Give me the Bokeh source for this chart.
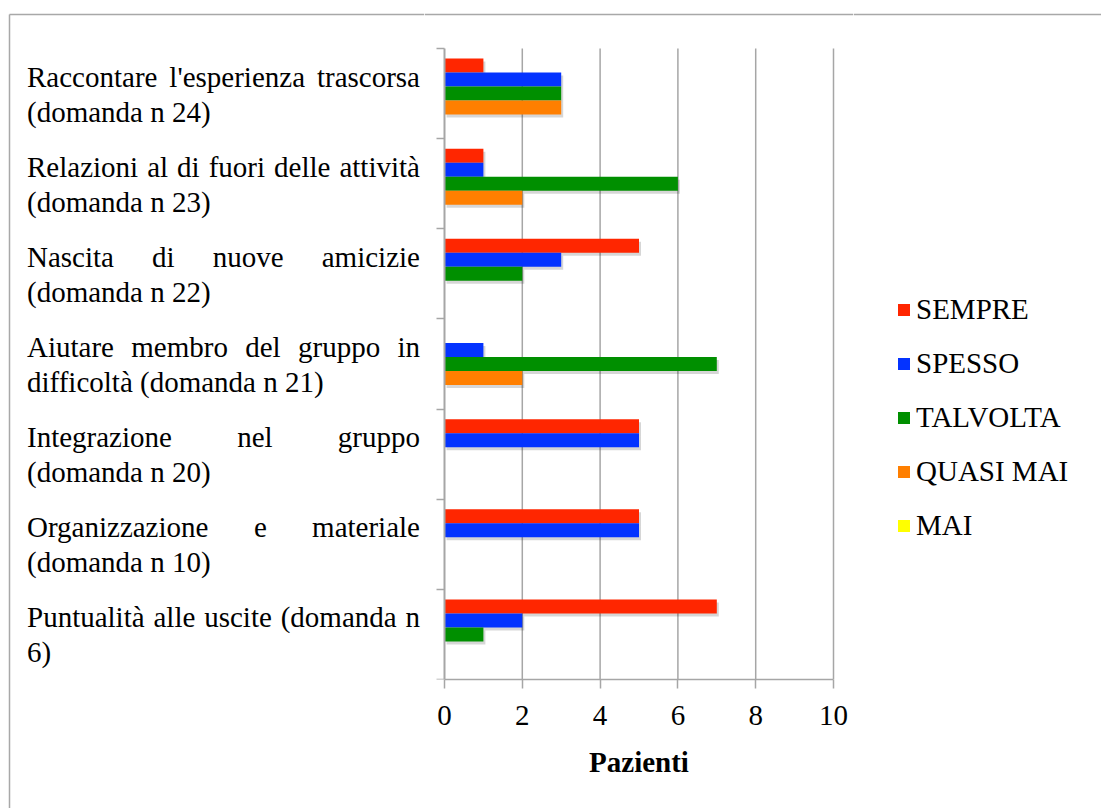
from bokeh.plotting import figure
from bokeh.layouts import row
from bokeh.models import (Legend, LegendItem, FixedTicker, Range1d, ColumnDataSource,
                          Span, LinearAxis)
from bokeh.core.properties import value
from bokeh.embed import file_html
from bokeh.resources import INLINE

# ---- data (rows listed top to bottom) ----
label_first_lines = [
    "Raccontare l'esperienza trascorsa",
    "Relazioni al di fuori delle attività",
    "Nascita di nuove amicizie",
    "Aiutare membro del gruppo in",
    "Integrazione nel gruppo",
    "Organizzazione e materiale",
    "Puntualità alle uscite (domanda n",
]
label_second_lines = [
    "(domanda n 24)",
    "(domanda n 23)",
    "(domanda n 22)",
    "difficoltà (domanda n 21)",
    "(domanda n 20)",
    "(domanda n 10)",
    "6)",
]
series_names = ["SEMPRE", "SPESSO", "TALVOLTA", "QUASI MAI", "MAI"]
series_colors = ["#ff2600", "#0433ff", "#008f00", "#ff7f00", "#ffff00"]
sempre = [1, 1, 5, 0, 5, 5, 7]
spesso = [3, 1, 3, 1, 5, 5, 2]
talvolta = [3, 6, 2, 7, 0, 0, 1]
quasi_mai = [3, 2, 0, 2, 0, 0, 0]
mai = [0, 0, 0, 0, 0, 0, 0]
series_values = [sempre, spesso, talvolta, quasi_mai, mai]
x_ticks = [0, 2, 4, 6, 8, 10]
x_max = 10
x_title = "Pazienti"

# ---- layout constants (pixels) ----
W, H = 1101, 808
AX_L, AX_R, AX_T, AX_B = 444, 833, 48, 679   # plotting area of the bars
PAD = 20                                     # extra room either side of the scale
MID_L, MID_R = AX_L - PAD, AX_R + PAD        # chart panel edges
BORDER_X, BORDER_Y = 9, 14
FONT = "Liberation Serif"
FONT_PX = 29
GRID = "#a6a6a6"
BORDER = "#a8a8a8"

n_rows = len(label_first_lines)
band_px = (AX_B - AX_T) / n_rows
unit_px = (AX_R - AX_L) / x_max
bar_h = 14.0 / band_px
y_top = n_rows + AX_T / band_px               # data value at the canvas top
y_bottom = -(H - AX_B) / band_px              # data value at the canvas bottom
border_y = n_rows + (AX_T - BORDER_Y) / band_px

# ---------------- main chart ----------------
p = figure(frame_width=MID_R - MID_L, frame_height=AX_B, output_backend="svg",
           toolbar_location=None, y_axis_type=None,
           min_border_left=0, min_border_right=0,
           min_border_top=0, min_border_bottom=H - AX_B,
           x_range=Range1d(-PAD / unit_px, x_max + PAD / unit_px),
           y_range=Range1d(0, y_top))
p.outline_line_color = None
p.xgrid.grid_line_color = None
p.ygrid.grid_line_color = None

centres = [n_rows - r - 0.5 for r in range(n_rows)]

# vertical grid lines, limited to the bar area
p.segment(x0=x_ticks[1:], y0=0, x1=x_ticks[1:], y1=n_rows,
          line_color=GRID, line_width=1.5)

# soft drop shadows under the bars
sh_dx = 2.0 / unit_px
sh_dy = 3.0 / band_px
for j, vals in enumerate(series_values):
    ys = [c + (2 - j) * bar_h - sh_dy for c in centres]
    src = ColumnDataSource(dict(y=[y for y, v in zip(ys, vals) if v > 0],
                                l=[sh_dx for v in vals if v > 0],
                                r=[v + sh_dx for v in vals if v > 0]))
    p.hbar(y="y", left="l", right="r", height=bar_h, source=src,
           fill_color="black", fill_alpha=0.16, line_color=None)

for j, (name, vals) in enumerate(zip(series_names, series_values)):
    src = ColumnDataSource(dict(y=[c + (2 - j) * bar_h for c in centres], v=vals))
    p.hbar(y="y", left=0, right="v", height=bar_h, source=src,
           fill_color=series_colors[j], line_color=None)

# x axis
p.xaxis.ticker = FixedTicker(ticks=x_ticks)
p.xaxis.bounds = (0, x_max)
p.xaxis.axis_label = x_title
p.xaxis.axis_label_text_font = FONT
p.xaxis.axis_label_text_font_size = f"{FONT_PX}px"
p.xaxis.axis_label_text_font_style = "bold"
p.xaxis.axis_label_text_color = "black"
p.xaxis.axis_label_standoff = 18
p.xaxis.major_label_text_font = FONT
p.xaxis.major_label_text_font_size = f"{FONT_PX}px"
p.xaxis.major_label_standoff = 17
p.xaxis.major_label_text_color = "black"
p.xaxis.major_tick_out = 9
p.xaxis.major_tick_in = 0
p.xaxis.minor_tick_line_color = None
p.xaxis.axis_line_color = GRID
p.xaxis.axis_line_width = 1.5
p.xaxis.major_tick_line_color = GRID
p.xaxis.major_tick_line_width = 1.5

# category axis: pinned at x = 0, ticks pointing away from the bars
yaxis = LinearAxis(ticker=FixedTicker(ticks=list(range(n_rows + 1))),
                   bounds=(0, n_rows), fixed_location=0,
                   major_label_overrides={i: "" for i in range(n_rows + 1)},
                   major_label_standoff=0, major_tick_out=0, major_tick_in=8,
                   minor_tick_line_color=None,
                   axis_line_color=GRID, axis_line_width=2,
                   major_tick_line_color=GRID, major_tick_line_width=1.5)
p.add_layout(yaxis, "right")

# top edge of the surrounding frame
p.add_layout(Span(location=border_y, dimension="width",
                  line_color=BORDER, line_width=1.5))


def side_panel(width):
    f = figure(frame_width=width, frame_height=H, output_backend="svg",
               toolbar_location=None, min_border=0,
               x_axis_type=None, y_axis_type=None,
               x_range=Range1d(0, width), y_range=Range1d(y_bottom, y_top))
    f.outline_line_color = None
    f.xgrid.grid_line_color = None
    f.ygrid.grid_line_color = None
    return f


# ---------------- category label panel ----------------
q = side_panel(MID_L)

# left and top edge of the surrounding frame
q.segment(x0=[BORDER_X, BORDER_X], y0=[y_bottom, border_y],
          x1=[BORDER_X, MID_L], y1=[border_y, border_y],
          line_color=BORDER, line_width=1.5)

TIMES_W = {" ": 250, "(": 333, ")": 333, "'": 180, "A": 722, "I": 333, "N": 722,
           "O": 722, "P": 556, "R": 667, "a": 444, "b": 500, "c": 444, "d": 500,
           "e": 444, "f": 333, "g": 500, "i": 278, "l": 278, "m": 778, "n": 500,
           "o": 500, "p": 500, "r": 333, "s": 389, "t": 278, "u": 500, "v": 500,
           "z": 444, "à": 444}


def text_px(s):
    return sum(TIMES_W.get(ch, 500) for ch in s) * FONT_PX / 1000.0


LBL_L, LBL_R = 26.5, 419.5
LINE1_UP, LINE2_DOWN = 17, 18                 # baselines relative to the row centre
wx, wy, wt = [], [], []
for r in range(n_rows):
    words = label_first_lines[r].split(" ")
    widths = [text_px(w) for w in words]
    gap = (LBL_R - LBL_L - sum(widths)) / (len(words) - 1)
    x = LBL_L
    for w, wd in zip(words, widths):
        wx.append(x)
        wy.append(centres[r] + LINE1_UP / band_px)
        wt.append(w)
        x += wd + gap
    wx.append(LBL_L)
    wy.append(centres[r] - LINE2_DOWN / band_px)
    wt.append(label_second_lines[r])

q.text(x=wx, y=wy, text=wt, text_font=value(FONT), text_font_size=value(f"{FONT_PX}px"),
       text_color="black", text_baseline="alphabetic", text_align="left")

# ---------------- legend panel ----------------
RW = W - MID_R
s = side_panel(RW)
s.segment(x0=[0], y0=[border_y], x1=[RW], y1=[border_y],
          line_color=BORDER, line_width=1.5)
# swatch renderers sit below the visible range; only their legend glyphs show
swatches = [s.hbar(y=[y_bottom - 1], left=[0], right=[1], height=bar_h,
                   fill_color=c, line_color=None) for c in series_colors]
legend = Legend(items=[LegendItem(label=n, renderers=[r])
                       for n, r in zip(series_names, swatches)],
                location=(896 - MID_R, H - 542),
                glyph_width=15, glyph_height=15, label_standoff=5, spacing=21,
                label_text_font=FONT, label_text_font_size=f"{FONT_PX}px",
                label_text_color="black",
                padding=0, margin=0, border_line_color=None, background_fill_alpha=0)
s.add_layout(legend, "center")

layout = row(q, p, s, spacing=0)
open("out.html", "w").write(file_html(layout, INLINE))
